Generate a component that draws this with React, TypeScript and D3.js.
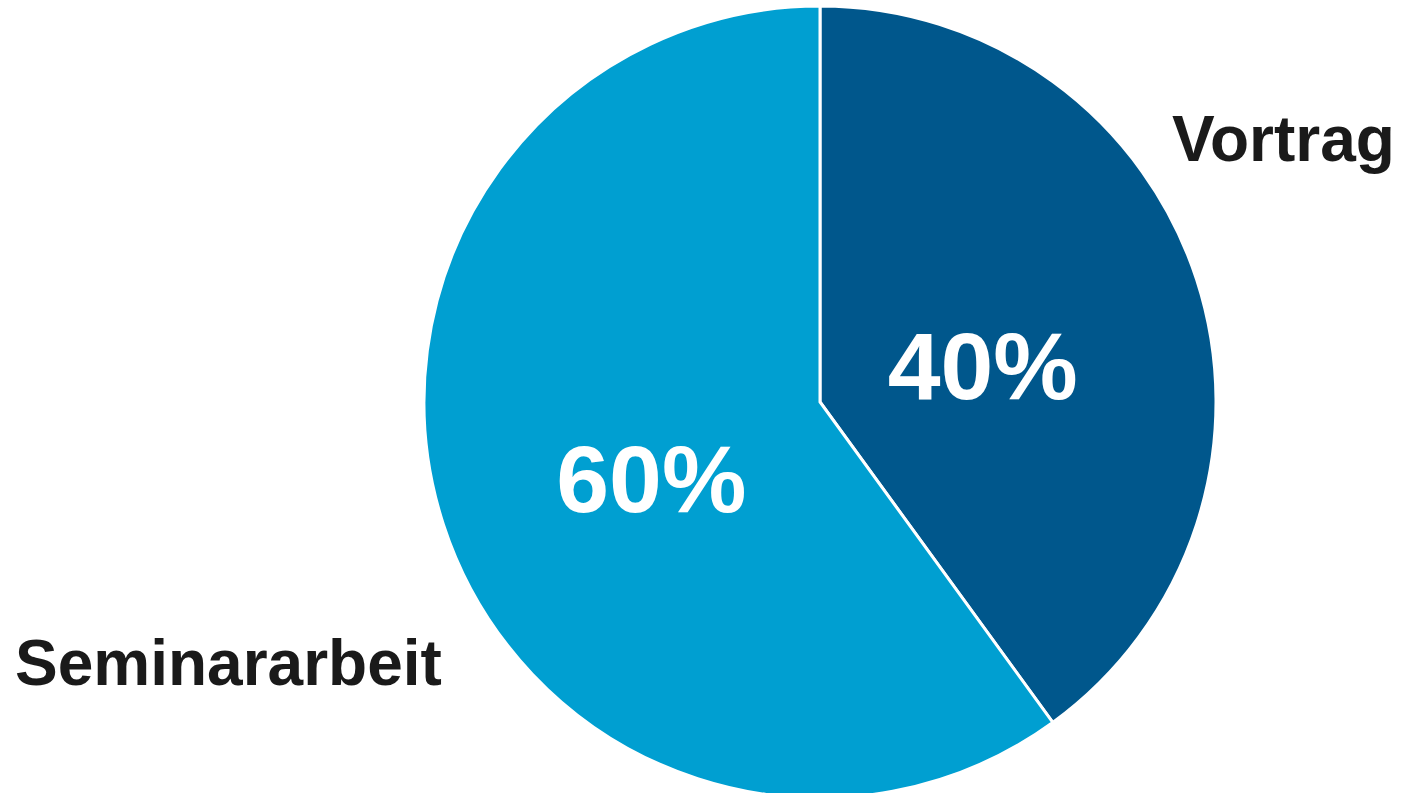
import React from "react";
import * as d3 from "d3";

const categories = ["Vortrag", "Seminararbeit"];
const values = [40, 60];
const percentLabels = ["40%", "60%"];
const colors = ["#00578C", "#009FD1"];

const W = 1402;
const H = 793;
const cx = 820;
const cy = 402;
const R = 396;

// outer label placement (layout)
const outerLabelPos = [
  { x: 1172, y: 161, anchor: "start" },
  { x: 15, y: 685, anchor: "start" },
];

export default function App() {
  const pie = d3
    .pie<number>()
    .sort(null)
    .value((d) => d);
  const arcs = pie(values);
  const arc = d3.arc<d3.PieArcDatum<number>>().innerRadius(0).outerRadius(R);
  const labelArc = d3
    .arc<d3.PieArcDatum<number>>()
    .innerRadius(R * 0.44)
    .outerRadius(R * 0.44);

  return (
    <svg
      width={W}
      height={H}
      style={{ position: "absolute", left: 0, top: 0, display: "block" }}
      fontFamily="'Liberation Sans', Arial, sans-serif"
    >
      <rect width={W} height={H} fill="#ffffff" />
      <g transform={`translate(${cx},${cy})`}>
        {arcs.map((a, i) => (
          <path
            key={categories[i]}
            d={arc(a) || ""}
            fill={colors[i]}
            stroke="#ffffff"
            strokeWidth={3}
            strokeLinejoin="miter"
          />
        ))}
        {arcs.map((a, i) => {
          const [x, y] = labelArc.centroid(a);
          return (
            <text
              key={"p" + i}
              x={x - 3}
              y={y + 51 + (i === 1 ? 5 : 0)}
              textAnchor="middle"
              fill="#ffffff"
              fontWeight="bold"
              fontSize={95}
            >
              {percentLabels[i]}
            </text>
          );
        })}
      </g>
      {categories.map((c, i) => (
        <text
          key={c}
          x={outerLabelPos[i].x}
          y={outerLabelPos[i].y}
          textAnchor={outerLabelPos[i].anchor as any}
          fill="#1a1a1a"
          fontWeight="bold"
          fontSize={64}
        >
          {c}
        </text>
      ))}
    </svg>
  );
}
